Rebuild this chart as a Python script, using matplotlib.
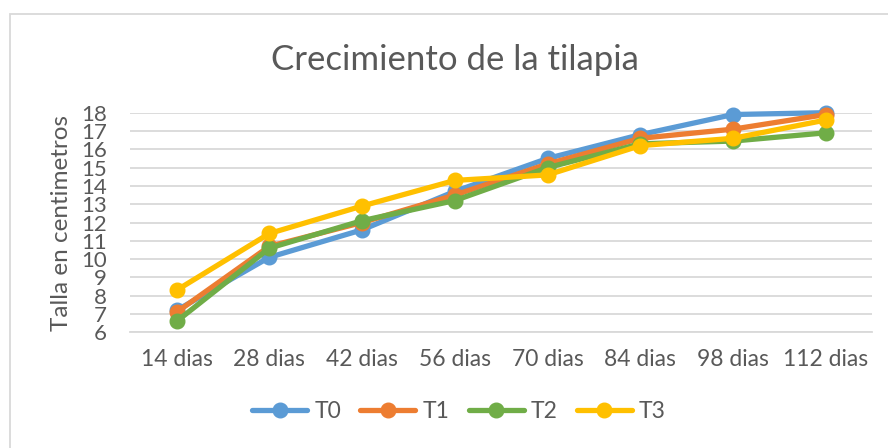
import matplotlib
matplotlib.use("Agg")
import matplotlib.pyplot as plt
from matplotlib.patches import Rectangle

categories = ["14 dias", "28 dias", "42 dias", "56 dias", "70 dias", "84 dias", "98 dias", "112 dias"]
t0 = [7.2, 10.1, 11.6, 13.7, 15.5, 16.8, 17.9, 18.0]
t1 = [7.1, 10.7, 12.0, 13.5, 15.2, 16.6, 17.1, 17.9]
t2 = [6.6, 10.6, 12.1, 13.2, 15.0, 16.3, 16.45, 16.9]
t3 = [8.3, 11.4, 12.9, 14.3, 14.6, 16.2, 16.6, 17.6]
series_names = ["T0", "T1", "T2", "T3"]
yticks = list(range(6, 19))

colors = ["#5B9BD5", "#ED7D31", "#70AD47", "#FFC000"]
txt = "#595959"
grid = "#D9D9D9"

plt.rcParams['font.family'] = ['Lato', 'DejaVu Sans']

fig = plt.figure(figsize=(8.88, 4.48), dpi=100)
ax = fig.add_axes([130.3/888, 1-332.3/448, (872.1-130.3)/888, (332.3-112.7)/448])

x = list(range(len(categories)))
for vals, name, c in zip([t0, t1, t2, t3], series_names, colors):
    ax.plot(x, vals, color=c, lw=3.8, marker='o', markersize=10.5, label=name,
            solid_capstyle='round', solid_joinstyle='round', clip_on=False)

ax.set_xlim(-0.5, len(categories) - 0.5)
ax.set_ylim(6, 18)
ax.set_yticks(yticks)
ax.set_xticks(x)
ax.set_xticklabels(categories)
ax.yaxis.grid(True, color=grid, lw=1.3)
ax.set_axisbelow(True)
for s in ["top", "right", "left"]:
    ax.spines[s].set_visible(False)
ax.spines["bottom"].set_color(grid)
ax.spines["bottom"].set_linewidth(1.3)
ax.tick_params(axis='x', length=0, colors=txt, labelsize=16.5, pad=12)
ax.tick_params(axis='y', length=0, colors=txt, labelsize=16, pad=17)
ax.set_ylabel("Talla en centimetros", color=txt, fontsize=17.5, labelpad=6)
fig.text(454.5/888, 1-60/448, "Crecimiento de la tilapia", color=txt, fontsize=25,
         ha='center', va='center')

leg = fig.legend(loc='center', bbox_to_anchor=(459/888, 1-412/448), ncol=4, frameon=False,
                 fontsize=16.5, handlelength=2.4, columnspacing=0.85, handletextpad=0.3,
                 labelcolor=txt)

fig.patches.append(Rectangle((9.5/888, -0.1), 1.2, (448-14)/448 + 0.1, transform=fig.transFigure,
                             fill=False, edgecolor=grid, lw=1.3))

fig.savefig("out.png", dpi=100, facecolor="white")
